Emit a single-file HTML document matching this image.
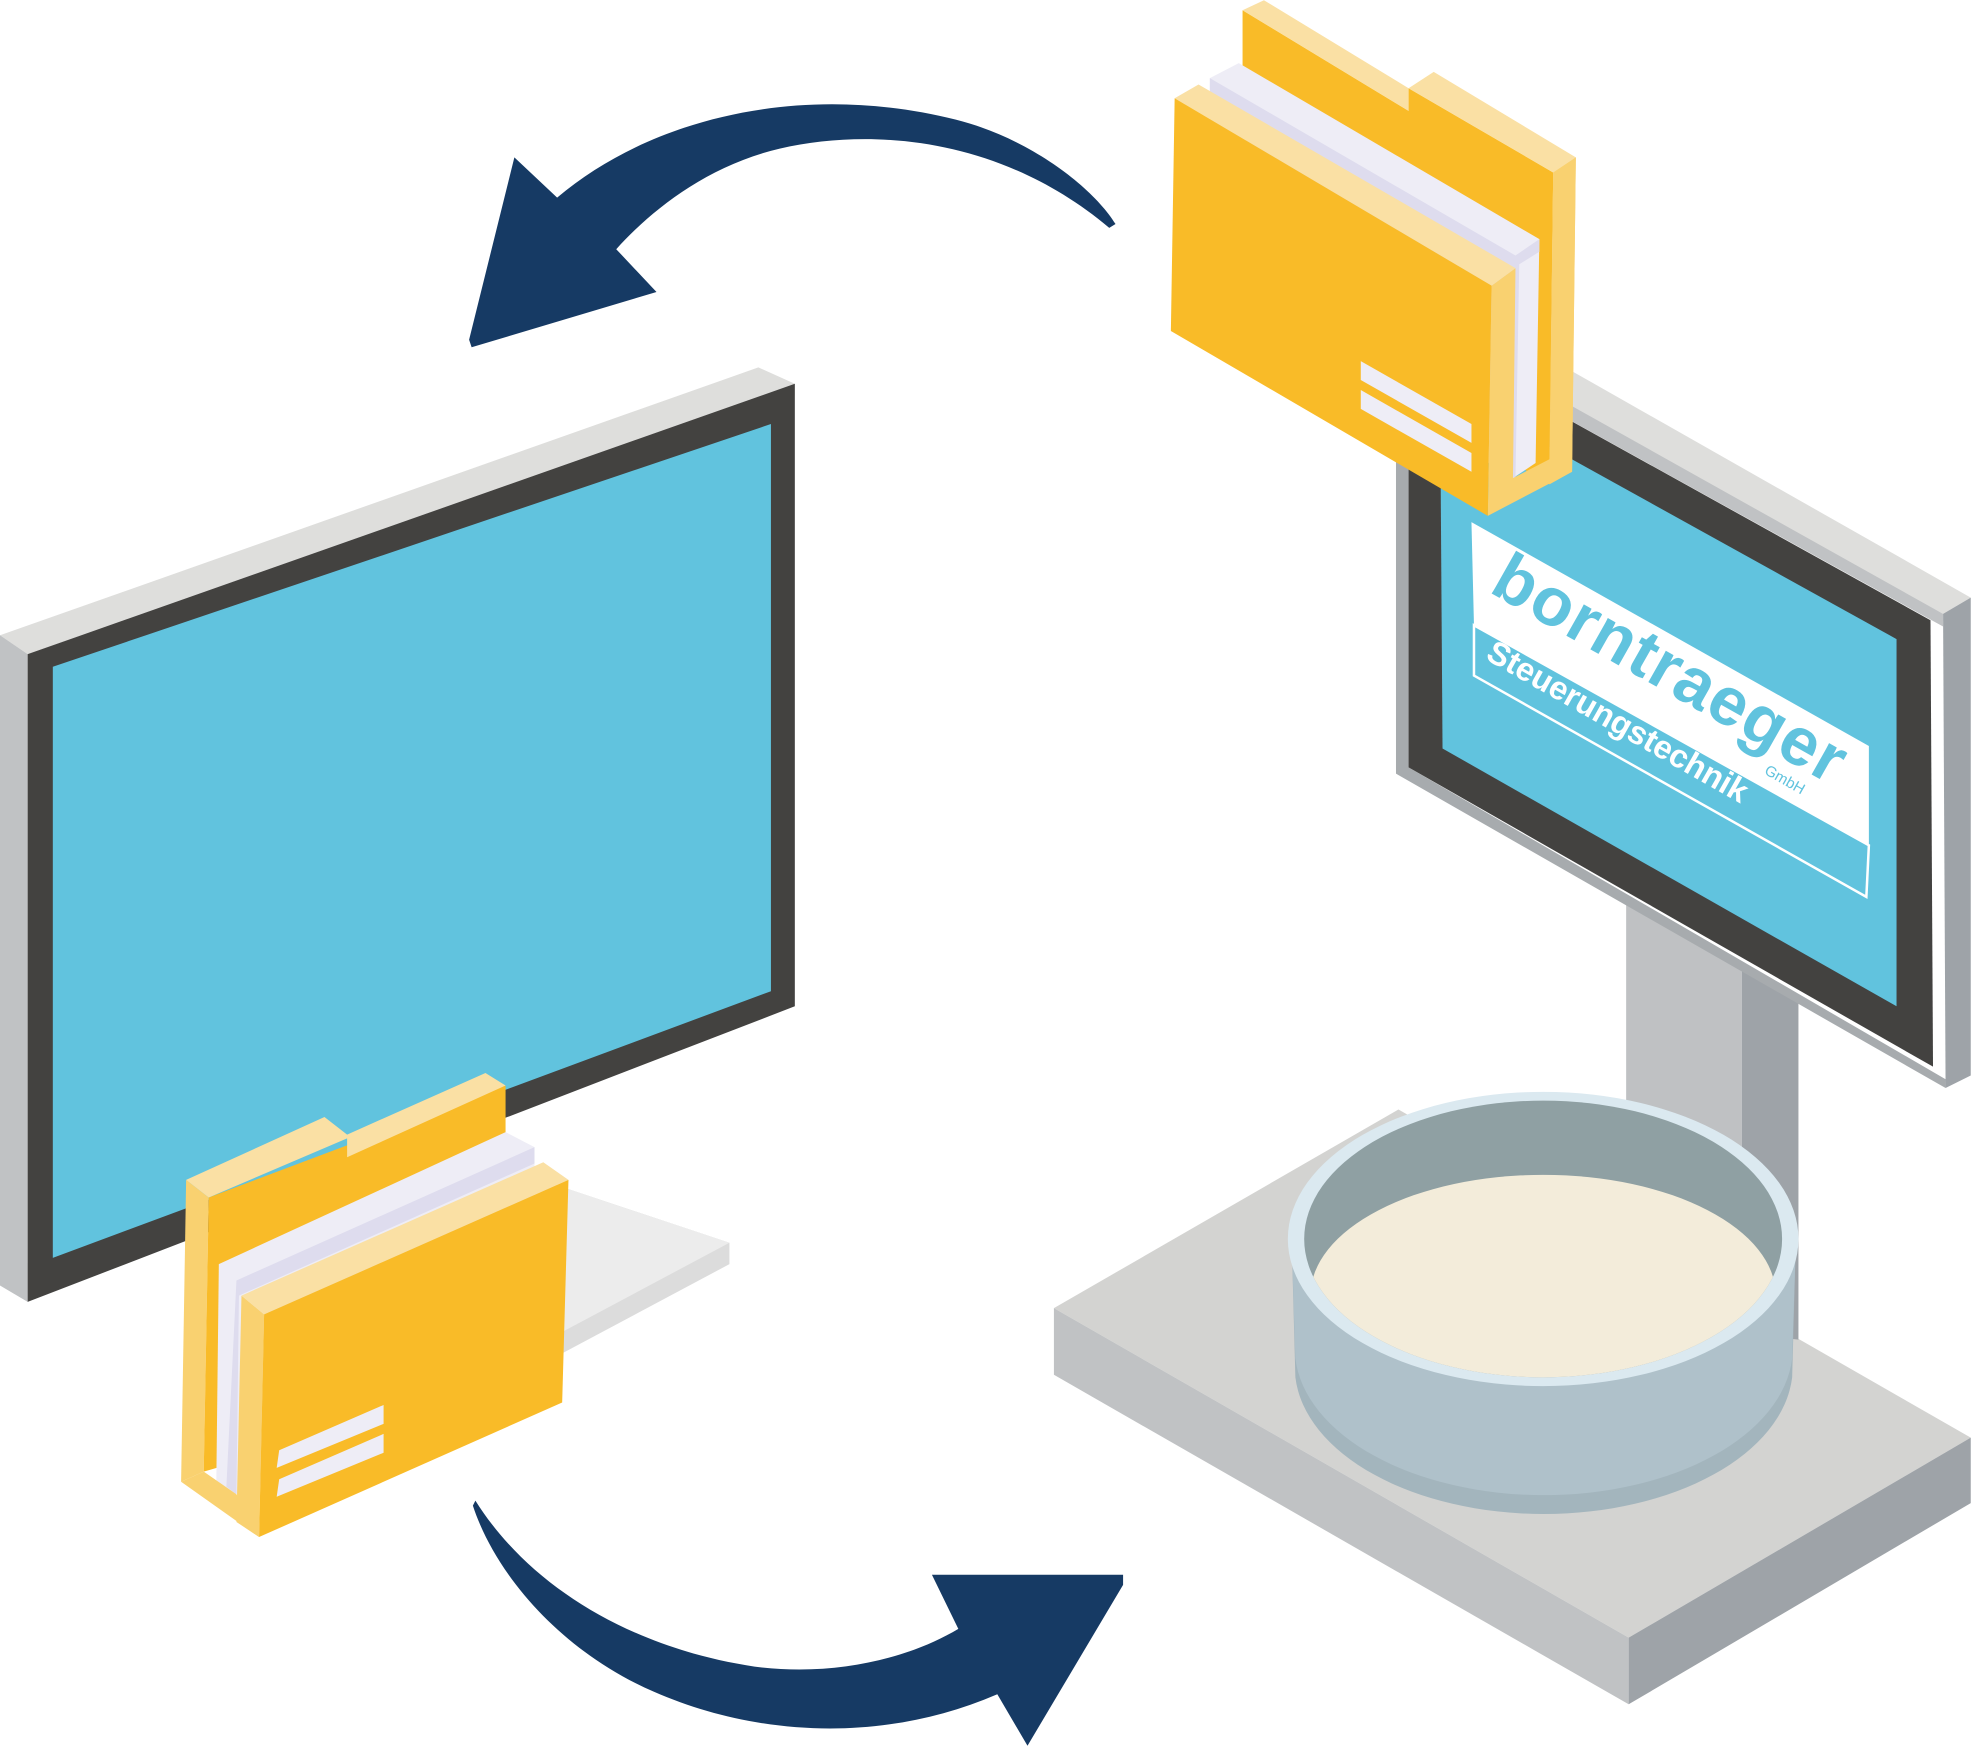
<!DOCTYPE html>
<html><head><meta charset="utf-8"><style>html,body{margin:0;padding:0;background:#fff}svg{display:block}</style></head>
<body>
<svg width="1972" height="1746" viewBox="0 0 1568 1388" xmlns="http://www.w3.org/2000/svg">
<!-- arrows -->
<path d="M409,125 L443,157 C520,92 640,65 760,95 C820,110 870,150 887,178 L882,181 C800,112 700,100 620,118 C560,132 515,170 490,198 L522,232 L375,276 L373,270 Z" fill="#163a64"/>
<path d="M378,1193 C420,1260 500,1310 600,1325 C660,1333 720,1320 762,1295 L741,1252 L893,1252 L893,1260 L817,1388 L793,1347 C700,1387 600,1380 520,1345 C450,1315 395,1255 376,1197 Z" fill="#163a64"/>

<!-- left monitor stand -->
<polygon points="430,938 580,988 580,1005 430,1085" fill="#dcdcdc"/>
<polygon points="430,938 580,988 430,1068" fill="#ececec"/>
<!-- left monitor -->
<polygon points="0,505 603,292 632,305 22,520" fill="#dededc"/>
<polygon points="0,505 22,520 22,1035 0,1022" fill="#c0c2c4"/>
<polygon points="22,520 632,305 632,800 22,1035" fill="#434240"/>
<polygon points="42,530 613,337 613,788 42,1000" fill="#61c3de"/>

<!-- left folder -->
<polygon points="148,938 166,952 162,1170 144,1178" fill="#f9d170"/>
<polygon points="166,952 402,863 402,1100 162,1170" fill="#f9bb28"/>
<polygon points="148,938 258,888 276,902 386,853 402,863 276,920 276,905 166,952" fill="#fae0a4"/>
<polygon points="174,1005 402,900 425,912 425,1100 188,1188 172,1178" fill="#eeedf6"/>
<polygon points="188,1018 425,912 425,925 190,1030 188,1188 180,1182" fill="#dedcee"/>
<polygon points="144,1178 162,1170 188,1188 206,1222" fill="#f9d170"/>
<polygon points="192,1030 210,1045 206,1222 188,1210" fill="#f9d170"/>
<polygon points="192,1030 432,924 452,938 210,1045" fill="#fae0a4"/>
<polygon points="210,1045 452,938 447,1115 206,1222" fill="#f9bb28"/>
<polygon points="222,1153 305,1117 305,1132 220,1167" fill="#eeedf6"/>
<polygon points="222,1176 305,1140 305,1155 220,1190" fill="#eeedf6"/>

<!-- right base -->
<polygon points="838,1040 1112,882 1567,1143 1295,1302" fill="#d3d3d1"/>
<polygon points="838,1040 1295,1302 1295,1355 838,1093" fill="#c0c2c4"/>
<polygon points="1295,1302 1567,1143 1567,1195 1295,1355" fill="#9ea3a8"/>
<!-- pole -->
<polygon points="1293,715 1385,770 1385,1060 1293,1010" fill="#bfc1c3"/>
<polygon points="1385,770 1430,795 1430,1065 1385,1060" fill="#9ea3a8"/>
<!-- right monitor -->
<polygon points="1120,220 1250,295 1567,475 1545,488 1120,263" fill="#dededc"/>
<polygon points="1120,250 1545,488 1545,498 1120,263" fill="#c0c2c4"/>
<polygon points="1545,488 1567,475 1567,855 1547,865" fill="#9ea3a8"/>
<polygon points="1110,360 1120,365 1120,610 1547,858 1547,865 1110,615" fill="#a7abae"/>
<polygon points="1120,263 1535,493 1537,848 1120,610" fill="#434240"/>
<polygon points="1145,307 1508,508 1508,800 1147,595" fill="#61c3de"/>
<polygon points="1170,415 1486,593 1486,672 1172,497" fill="#fff"/>
<polygon points="1172,497 1486,672 1484,713 1172,537" fill="#61c3de" stroke="#fff" stroke-width="2"/>
<g transform="translate(1183,470) rotate(29.5)" font-family="Liberation Sans, sans-serif" font-weight="bold">
<text x="0" y="0" font-size="54" fill="#61c3de" letter-spacing="1">borntraeger</text>
<text x="24" y="48" font-size="26" fill="#fff">Steuerungstechnik</text>
<text x="262" y="18" font-size="12" font-weight="normal" fill="#61c3de">GmbH</text>
</g>

<!-- bowl -->
<path d="M1027,985 L1030,1095 A198,117 0 0 0 1425,1095 L1428,985 Z" fill="#a3b5bd"/>
<path d="M1027,985 L1030,1080 A198,117 0 0 0 1425,1080 L1428,985 Z" fill="#afc1ca"/>
<ellipse cx="1227" cy="985" rx="203" ry="117" fill="#dbe9f0"/>
<ellipse cx="1227" cy="985" rx="190" ry="110" fill="#8fa0a3"/>
<clipPath id="bc"><ellipse cx="1227" cy="985" rx="190" ry="110"/></clipPath>
<ellipse cx="1227" cy="1030" rx="185" ry="96" fill="#f3ecda" clip-path="url(#bc)"/>

<!-- right folder -->
<polygon points="988,50 988,8 1120,88 1120,70 1235,137 1232,385 988,240" fill="#f9bb28"/>
<polygon points="988,8 1005,0 1120,70 1120,88" fill="#fae0a4"/>
<polygon points="1120,70 1140,57 1253,125 1235,137" fill="#fae0a4"/>
<polygon points="1235,137 1253,125 1250,375 1232,385" fill="#f9d170"/>
<polygon points="962,62 985,50 1224,190 1221,368 1203,380 962,230" fill="#eeedf6"/>
<polygon points="962,62 1205,203 1224,190 1224,200 1208,210 1205,380 1203,380 962,75" fill="#dedcee"/>
<polygon points="1186,227 1205,213 1203,380 1232,365 1235,137 1253,125 1250,375 1183,410" fill="#f9d170"/>
<polygon points="934,78 953,67 1205,213 1186,227" fill="#fae0a4"/>
<polygon points="934,78 1186,227 1183,410 931,263" fill="#f9bb28"/>
<polygon points="1082,287 1170,337 1170,352 1082,302" fill="#eeedf6"/>
<polygon points="1082,310 1170,360 1170,375 1082,325" fill="#eeedf6"/>
</svg>
</body></html>
